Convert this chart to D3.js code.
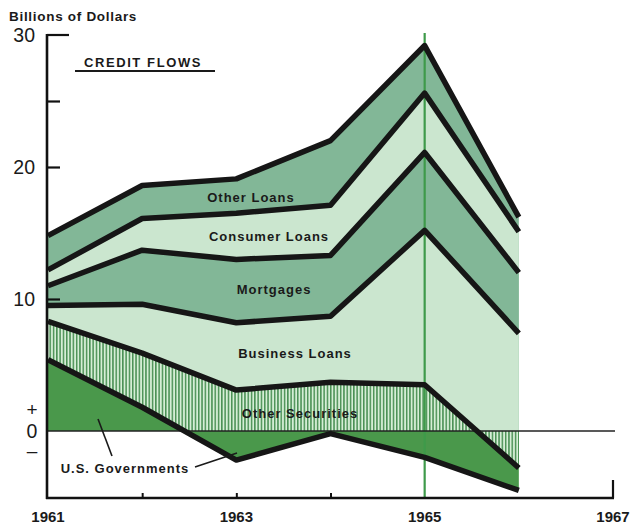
<!DOCTYPE html>
<html><head><meta charset="utf-8">
<script src="https://cdn.jsdelivr.net/npm/d3@7"></script>
<style>
html,body{margin:0;padding:0;background:#fff;}
svg{display:block;}
</style></head>
<body>
<svg id="chart" width="631" height="524"></svg>
<script>
// ---- data ----
const years = [1961, 1962, 1963, 1964, 1965, 1966];
const usGovernments   = [5.4, 1.8, -2.2, -0.2, -2.0, -1.7];
const otherSecurities = [2.9, 4.1, 3.1, 3.7, 3.5, -2.8];
const businessLoans   = [1.2, 3.7, 5.1, 5.0, 11.7, 7.4];
const mortgages       = [1.5, 4.1, 4.8, 4.6, 5.9, 4.6];
const consumerLoans   = [1.2, 2.4, 3.5, 3.8, 4.5, 3.1];
const otherLoans      = [2.6, 2.5, 2.6, 4.9, 3.6, 1.1];
const seriesNames = ["U.S. Governments", "Other Securities", "Business Loans", "Mortgages", "Consumer Loans", "Other Loans"];
const xTickLabels = [1961, 1963, 1965, 1967];
const yTickLabels = [30, 20, 10];

// ---- stacking: positives up from 0 in series order, negatives down from 0 (Other Securities nearest zero) ----
const seriesVals = [usGovernments, otherSecurities, businessLoans, mortgages, consumerLoans, otherLoans];
const posOrder = [0, 1, 2, 3, 4, 5];
const negOrder = [1, 0, 2, 3, 4, 5];
const outer = seriesVals.map(() => []);
years.forEach((yr, i) => {
  let pos = 0;
  posOrder.forEach(k => { const v = seriesVals[k][i]; if (v >= 0) { pos += v; outer[k][i] = pos; } });
  let neg = 0;
  negOrder.forEach(k => { const v = seriesVals[k][i]; if (v < 0) { neg += v; outer[k][i] = neg; } });
});

// ---- scales ----
const x = d3.scaleLinear().domain([1961, 1967]).range([48, 613]);
const y = d3.scaleLinear().domain([-5, 30]).range([497, 35]);

const svg = d3.select("#chart");
const defs = svg.append("defs");
const pat = defs.append("pattern").attr("id", "stripes").attr("patternUnits", "userSpaceOnUse")
  .attr("width", 3.3).attr("height", 10);
pat.append("rect").attr("width", 3.3).attr("height", 10).attr("fill", "#d6eed6");
pat.append("rect").attr("width", 1.5).attr("height", 10).attr("fill", "#4a9054");
defs.append("clipPath").attr("id", "belowZero").append("rect")
  .attr("x", 0).attr("y", y(0)).attr("width", 631).attr("height", 524 - y(0));

const medium = "#82b797", light = "#cbe6cf", govt = "#4a984b";
const fills = {5: medium, 4: light, 3: medium, 2: light};

const area = k => d3.area().x((d, i) => x(years[i])).y0(y(0)).y1((d, i) => y(outer[k][i]));
const line = k => d3.line().x((d, i) => x(years[i])).y((d, i) => y(outer[k][i]));

// fills, painter's order
[5, 4, 3, 2].forEach(k => {
  svg.append("path").datum(years).attr("d", area(k)).attr("fill", fills[k]);
});
svg.append("path").datum(years).attr("d", area(1)).attr("fill", "url(#stripes)");
svg.append("path").datum(years).attr("d", area(0)).attr("fill", govt);
svg.append("path").datum(years).attr("d", area(1)).attr("fill", "url(#stripes)").attr("clip-path", "url(#belowZero)");

// 1965 vertical green line
svg.append("line").attr("x1", x(1965)).attr("x2", x(1965)).attr("y1", 33).attr("y2", 498)
  .attr("stroke", "#3e9a4a").attr("stroke-width", 2.2);

// zero line
svg.append("line").attr("x1", 47).attr("x2", 615).attr("y1", y(0)).attr("y2", y(0))
  .attr("stroke", "#222").attr("stroke-width", 1.6);

// boundary lines
[5, 4, 3, 2, 1, 0].forEach(k => {
  svg.append("path").datum(years).attr("d", line(k)).attr("fill", "none")
    .attr("stroke", "#161616").attr("stroke-width", 5.5).attr("stroke-linejoin", "round");
});

// y axis
const yAxis = d3.axisRight(y).tickValues([25, 20, 10]).tickSize(13).tickFormat("");
const gy = svg.append("g").attr("transform", "translate(47,0)").call(yAxis);
gy.select(".domain").remove();
gy.selectAll("line").attr("stroke", "#111").attr("stroke-width", 2.2);
svg.append("line").attr("x1", 47).attr("x2", 69).attr("y1", y(30)).attr("y2", y(30))
  .attr("stroke", "#111").attr("stroke-width", 2.2);
svg.append("line").attr("x1", 47).attr("x2", 47).attr("y1", y(30) - 1).attr("y2", 499)
  .attr("stroke", "#111").attr("stroke-width", 2.6);

// x axis
const xAxis = d3.axisTop(x).tickValues([1962, 1963, 1964]).tickSize(5).tickFormat("");
const gx = svg.append("g").attr("transform", "translate(0,498)").call(xAxis);
gx.select(".domain").remove();
gx.selectAll("line").attr("stroke", "#111").attr("stroke-width", 2);
svg.append("line").attr("x1", 46).attr("x2", 614).attr("y1", 498).attr("y2", 498)
  .attr("stroke", "#111").attr("stroke-width", 2.6);
svg.append("line").attr("x1", x(1967)).attr("x2", x(1967)).attr("y1", 480).attr("y2", 498)
  .attr("stroke", "#111").attr("stroke-width", 2.2);

svg.selectAll(".xlab").data(xTickLabels).enter().append("text")
  .attr("x", d => x(d)).attr("y", 517).attr("dy", "0.35em").attr("text-anchor", "middle")
  .attr("font-family", "Liberation Sans, Arial, sans-serif").attr("font-weight", "bold")
  .attr("font-size", 15).attr("fill", "#1a1a1a").text(d => d);

svg.selectAll(".ylab").data(yTickLabels).enter().append("text")
  .attr("x", 35).attr("y", d => y(d) + 7).attr("text-anchor", "end")
  .attr("font-family", "Liberation Sans, Arial, sans-serif").attr("font-size", 19.5).attr("fill", "#1a1a1a").text(d => d);
// "+ 0 –" marker at zero, as one text
const zt = svg.append("text").attr("text-anchor", "middle")
  .attr("font-family", "Liberation Sans, Arial, sans-serif").attr("fill", "#1a1a1a");
zt.append("tspan").attr("x", 32).attr("y", 416).attr("font-size", 19).text("+");
zt.append("tspan").attr("x", 32).attr("y", y(0) + 7).attr("font-size", 19.5).text("0");
zt.append("tspan").attr("x", 32).attr("y", 457).attr("font-size", 19).text("–");

// titles
svg.append("text").attr("x", 9).attr("y", 21)
  .attr("font-family", "Liberation Sans, Arial, sans-serif").attr("font-weight", "bold")
  .attr("font-size", 13.5).attr("letter-spacing", 0.7).attr("fill", "#1a1a1a").text("Billions of Dollars");
svg.append("text").attr("x", 143).attr("y", 62).attr("dy", "0.35em").attr("text-anchor", "middle")
  .attr("font-family", "Liberation Sans, Arial, sans-serif").attr("font-weight", "bold")
  .attr("font-size", 13).attr("letter-spacing", 1.6).attr("fill", "#1a1a1a").text("CREDIT FLOWS");
svg.append("line").attr("x1", 75).attr("x2", 215).attr("y1", 71).attr("y2", 71)
  .attr("stroke", "#1a1a1a").attr("stroke-width", 1.8);

// area labels
const labelPos = [[125, 468], [300, 413], [295, 353], [274, 289], [269, 236], [251, 197]];
seriesNames.forEach((name, k) => {
  svg.append("text").attr("x", labelPos[k][0]).attr("y", labelPos[k][1]).attr("dy", "0.35em")
    .attr("text-anchor", "middle").attr("font-family", "Liberation Sans, Arial, sans-serif")
    .attr("font-weight", "bold").attr("font-size", 13).attr("letter-spacing", 1)
    .attr("fill", "#1a1a1a").text(name);
});
// pointers for U.S. Governments
svg.append("line").attr("x1", 112).attr("y1", 456).attr("x2", 98).attr("y2", 419)
  .attr("stroke", "#1a1a1a").attr("stroke-width", 1.6);
svg.append("line").attr("x1", 195).attr("y1", 467).attr("x2", 237).attr("y2", 453)
  .attr("stroke", "#1a1a1a").attr("stroke-width", 1.6);
</script>
</body></html>
